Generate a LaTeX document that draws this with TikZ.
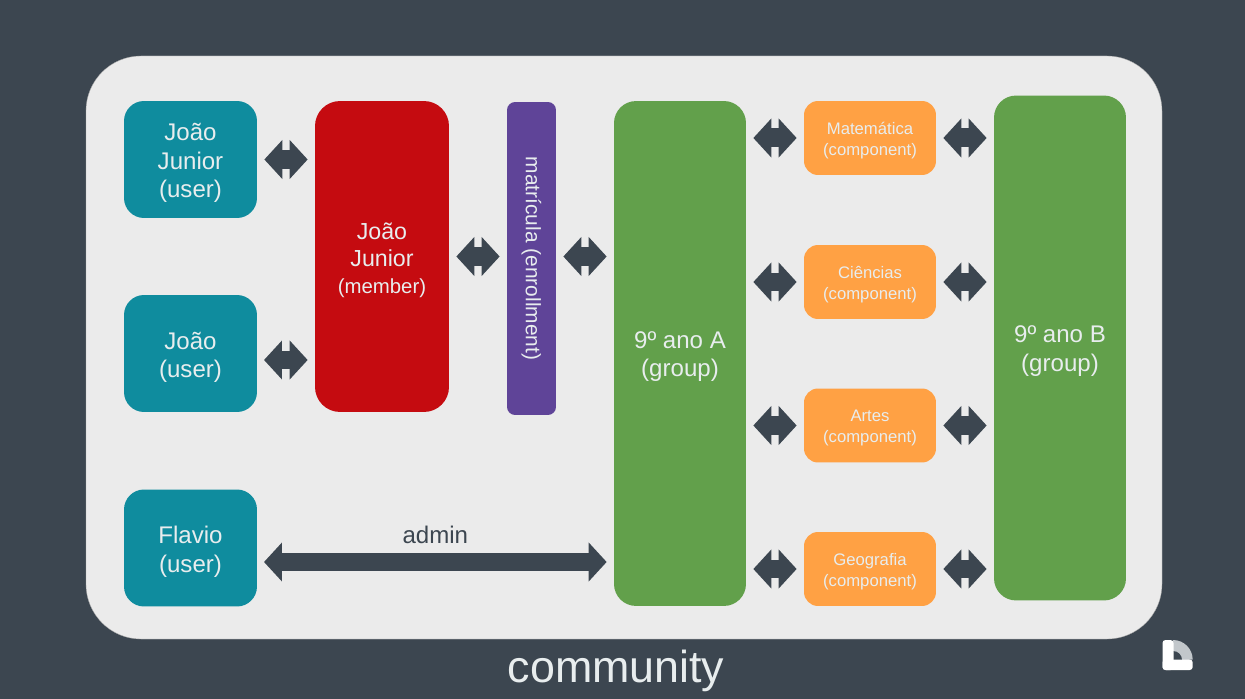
\documentclass[tikz,border=0pt]{standalone}
\usepackage{fontspec}
\usepackage{xcolor}
\setmainfont{Liberation Sans}
\usetikzlibrary{arrows.meta}
\usetikzlibrary{positioning}

\definecolor{slatebg}{HTML}{3C4650}
\definecolor{panelgray}{HTML}{EBEBEB}
\definecolor{userteal}{HTML}{0F8C9E}
\definecolor{memberred}{HTML}{C50B10}
\definecolor{enrollpurple}{HTML}{5F4498}
\definecolor{groupgreen}{HTML}{62A04B}
\definecolor{comporange}{HTML}{FFA144}
\definecolor{softwhite}{HTML}{E8EDEE}
\definecolor{logogray}{HTML}{C2C7CB}

\newcommand{\dropline}[1]{\rule{0pt}{#1}}

\tikzset{
    box/.style={inner sep=0pt, align=center, text=softwhite, font=\fontsize{13.7}{16.2}\selectfont},
    userbox/.style={box, fill=userteal, rounded corners=0.4cm, minimum width=2.66cm, minimum height=2.34cm},
    groupbox/.style={box, fill=groupgreen, rounded corners=0.44cm, minimum width=2.64cm, minimum height=10.1cm},
    compbox/.style={box, fill=comporange, rounded corners=0.28cm, minimum width=2.64cm, minimum height=1.48cm, font=\fontsize{9.5}{12}\selectfont},
    link/.style={<->, >={Triangle[length=0.36cm, width=0.76cm]}, slatebg, line width=0.38cm, shorten >=0.14cm, shorten <=0.14cm},
}

\begin{document}
\begin{tikzpicture}[x=0.02cm, y=-0.02cm]
    \fill[slatebg](0, 0) rectangle (1245, 699);
    \useasboundingbox (0, 0) rectangle (1245, 699);

    \draw[fill=panelgray, draw=gray!70, very thin, rounded corners=1.1cm](86, 56) rectangle (1162, 639);
    \node[text=softwhite, font=\fontsize{25.5}{30}\selectfont] (community) at (616, 671) {community};

    % users
    \node[userbox] (junior) at (190.5, 159.5) {\dropline{14pt}João\\Junior\\(user)};
    \node[userbox] (joao) at (190.5, 353.5) {\dropline{14pt}João\\(user)};
    \node[userbox] (flavio) at (190.5, 548) {\dropline{14pt}Flavio\\(user)};

    \node[box, fill=memberred, rounded corners=0.5cm, minimum width=2.68cm, minimum height=6.22cm, font=\fontsize{13.2}{15.5}\selectfont] (member) at (382, 256.5) {\dropline{13.5pt}João\\Junior\\{\fontsize{11.6}{15.5}\selectfont (member)}};
    \node[box, fill=enrollpurple, rounded corners=0.16cm, minimum width=6.26cm, minimum height=0.98cm, rotate=-90, font=\fontsize{11.9}{14}\selectfont] (enroll) at (531.5, 258.5) {matrícula (enrollment)};

    \node[groupbox] (groupa) at (680, 353.5) {\dropline{13.2pt}9º ano A\\(group)};
    \node[groupbox] (groupb) at (1060, 348) {\dropline{13.2pt}9º ano B\\(group)};

    % components
    \node[compbox] (mat) at (870, 138) {\dropline{9.5pt}Matemática\\(component)};
    \node[compbox] (cie) at (870, 282) {\dropline{9.5pt}Ciências\\(component)};
    \node[compbox] (art) at (870, 425.5) {\dropline{9.5pt}Artes\\(component)};
    \node[compbox] (geo) at (870, 569) {\dropline{9.5pt}Geografia\\(component)};

    \coordinate (joaoport) at (257, 360);
    \coordinate (flavioport) at (257, 562);

    \draw[link](junior.east)--(junior.east -| member.west);
    \draw[link](joaoport)--(joaoport -| member.west);
    \draw[link](member.east)--(member.east -| enroll.south);
    \draw[link](member.east -| enroll.north)--(member.east -| groupa.west);
    \draw[link](flavioport)--(flavioport -| groupa.west)node[midway, above=0.06cm, text=slatebg, font=\fontsize{13.7}{16}\selectfont]{admin};

    \foreach \comp in {mat, cie, art, geo}{
        \draw[link](\comp.west -| groupa.east)--(\comp.west);
        \draw[link](\comp.east)--(\comp.east -| groupb.west);
    }

    % logo
    \fill[logogray](1173, 640) arc[start angle=90, end angle=0, radius=0.394cm] -- (1173, 660) -- cycle;
    \fill[slatebg](1173, 651) arc[start angle=90, end angle=0, radius=0.18cm] -- (1173, 660) -- cycle;
    \fill[white, rounded corners=0.06cm](1162.5, 640) rectangle (1173.5, 670);
    \fill[white, rounded corners=0.06cm](1162.5, 659.5) rectangle (1192.7, 670);
\end{tikzpicture}
\end{document}
